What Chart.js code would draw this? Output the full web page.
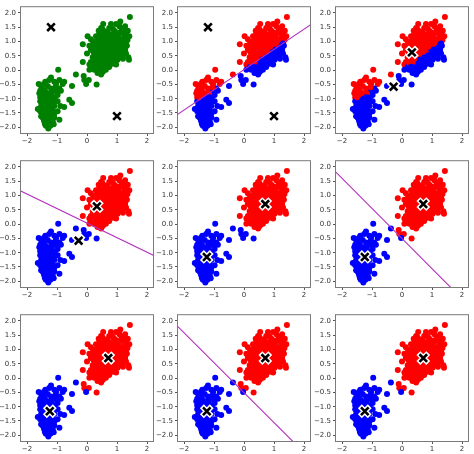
<!DOCTYPE html>
<html>
<head>
<meta charset="utf-8">
<script src="https://cdn.jsdelivr.net/npm/chart.js@4.4.1/dist/chart.umd.min.js"></script>
<style>
  body { margin: 0; background: #fff; }
  #wrap { position: relative; width: 474px; height: 454px; overflow: hidden; }
  #wrap canvas { position: absolute; }
</style>
</head>
<body>
<div id="wrap"></div>
<script>
// upper cluster (long eruptions), standardised units
const clusterTop = [
  [1.43,1.86],[1.11,1.70],[0.54,1.61],[0.80,1.61],[0.97,1.61],[1.08,1.53],[1.27,1.53],[0.47,1.47],[0.74,1.47],
  [0.39,1.38],[0.91,1.38],[1.22,1.38],[1.36,1.38],[0.58,1.30],[0.69,1.30],[1.04,1.30],[1.19,1.30],[0.41,1.25],
  [0.80,1.25],[1.30,1.25],[0.02,1.18],[0.30,1.18],[0.67,1.18],[0.97,1.18],[1.41,1.18],[0.13,1.08],[0.47,1.08],
  [0.86,1.08],[1.16,1.08],[0.38,1.00],[0.61,1.00],[0.91,1.00],[1.24,1.00],[-0.14,0.90],[0.19,0.90],[0.36,0.90],
  [0.47,0.90],[0.74,0.90],[0.97,0.90],[1.13,0.90],[0.08,0.85],[0.58,0.85],[0.80,0.85],[1.02,0.85],[1.19,0.85],
  [1.33,0.85],[0.24,0.79],[0.41,0.79],[0.69,0.79],[0.89,0.79],[1.08,0.79],[0.13,0.71],[0.30,0.71],[0.52,0.71],
  [0.74,0.71],[0.97,0.71],[1.13,0.71],[1.27,0.71],[0.36,0.65],[0.63,0.65],[0.86,0.65],[1.02,0.65],[0.00,0.58],
  [0.24,0.58],[0.47,0.58],[0.69,0.58],[0.89,0.58],[1.13,0.58],[1.30,0.58],[0.41,0.50],[0.58,0.50],[0.80,0.50],
  [0.97,0.50],[1.19,0.50],[0.19,0.45],[0.36,0.45],[0.63,0.45],[0.91,0.45],[1.08,0.45],[1.38,0.45],[0.47,0.36],
  [0.69,0.36],[0.86,0.36],[1.02,0.36],[1.40,0.36],[-0.14,0.28],[0.13,0.28],[0.58,0.28],[0.80,0.28],[0.08,0.20],
  [0.36,0.20],[0.52,0.20],[0.63,0.20],[0.97,0.20],[0.19,0.11],[0.47,0.11],[0.74,0.11],[0.08,0.01],[0.24,0.01],
  [0.47,0.01],[0.63,0.01],[0.41,-0.07],[0.52,-0.07],[0.47,-0.15],
  [0.52,1.42],[0.86,1.45],[1.15,1.45],[0.65,1.35],[0.95,1.33],[1.30,1.33],[0.50,1.20],[0.82,1.15],[1.05,1.22],
  [1.25,1.15],[0.35,1.05],[0.55,1.12],[0.72,1.05],[1.00,1.05],[1.35,1.05],[0.25,0.98],[0.50,0.95],[0.80,0.97],
  [1.08,0.95],[1.30,0.93],[0.65,0.92],[0.90,0.88],[0.30,0.82],[0.50,0.80],[0.75,0.82],[0.98,0.80],[1.20,0.78],
  [0.40,0.74],[0.62,0.75],[0.85,0.74],[1.05,0.72],[0.20,0.66],[0.50,0.66],[0.75,0.64],[0.95,0.62],[1.20,0.64],
  [0.33,0.60],[0.58,0.58],[0.80,0.60],[1.00,0.55],[0.28,0.52],[0.70,0.52],[0.88,0.52],[1.10,0.52],[0.50,0.43],
  [0.75,0.45],[1.00,0.42],[1.20,0.40],[0.30,0.38],[0.60,0.36],[0.93,0.33],[0.40,0.30],[0.70,0.28],[0.25,0.25],
  [0.55,0.24],[0.85,0.22],[0.30,0.12],[0.60,0.14],[0.38,0.04],[0.55,-0.02],[0.35,-0.10]
];

// points between the two clusters
const bridge = [
  [-0.37,-0.15],[-0.11,-0.21],[-0.09,-0.35],[0.06,-0.35],[-0.03,-0.49],[0.32,-0.50],
  [-0.50,-0.56],[-0.59,-1.04],[-0.50,-1.15],[-0.76,-1.29]
];

// lower cluster (short eruptions)
const clusterBottom = [
  [-0.96,0.01],[-1.20,-0.26],[-1.26,-0.35],[-0.92,-0.35],[-1.39,-0.41],[-1.09,-0.41],[-0.76,-0.41],
  [-1.61,-0.49],[-1.44,-0.49],[-1.03,-0.49],[-0.81,-0.49],[-1.53,-0.56],[-1.31,-0.56],[-1.48,-0.64],
  [-1.20,-0.64],[-0.92,-0.64],[-1.56,-0.72],[-1.40,-0.72],[-1.11,-0.72],[-1.03,-0.72],[-0.87,-0.72],
  [-1.59,-0.81],[-1.31,-0.81],[-1.18,-0.81],[-1.53,-0.87],[-1.42,-0.87],[-1.26,-0.87],[-0.98,-0.87],
  [-1.56,-0.95],[-1.37,-0.95],[-1.20,-0.95],[-1.07,-0.95],[-1.48,-1.04],[-1.31,-1.04],[-1.14,-1.04],
  [-1.56,-1.09],[-1.42,-1.09],[-1.22,-1.09],[-0.98,-1.09],[-1.48,-1.17],[-1.33,-1.17],[-1.14,-1.17],
  [-1.53,-1.26],[-1.42,-1.26],[-1.26,-1.26],[-1.09,-1.26],[-0.89,-1.26],[-1.64,-1.36],[-1.48,-1.36],
  [-1.33,-1.36],[-1.20,-1.36],[-1.56,-1.44],[-1.42,-1.44],[-1.26,-1.44],[-0.98,-1.44],[-1.48,-1.52],
  [-1.37,-1.52],[-1.20,-1.52],[-1.09,-1.52],[-1.53,-1.61],[-1.42,-1.61],[-1.31,-1.61],[-1.20,-1.61],
  [-1.48,-1.66],[-1.37,-1.66],[-1.26,-1.66],[-1.09,-1.66],[-1.44,-1.74],[-1.31,-1.74],[-1.20,-1.74],
  [-0.92,-1.74],[-1.42,-1.81],[-1.31,-1.81],[-1.14,-1.81],[-1.40,-1.89],[-1.26,-1.89],[-1.11,-1.89],
  [-1.37,-1.95],[-1.22,-1.95],[-1.29,-2.04],
  [-1.50,-0.95],[-1.35,-1.20],[-1.45,-1.30],[-1.30,-1.48],[-1.40,-1.70],[-1.50,-1.55],[-1.28,-1.00],
  [-1.15,-1.40],[-1.05,-0.60],[-1.45,-0.78],[-1.20,-1.20],[-1.35,-1.85]
];

// cluster centres [red, blue] at each step
const mu0 = [[-1.20, 1.50], [1.00, -1.61]];
const mu1 = [[0.33, 0.62], [-0.28, -0.58]];
const mu2 = [[0.71, 0.70], [-1.24, -1.15]];
const mu3 = [[0.71, 0.70], [-1.24, -1.16]];

const xTicks = [-2, -1, 0, 1, 2];
const yTicks = [-2, -1.5, -1, -0.5, 0, 0.5, 1, 1.5, 2];

// which centres colour the points, which centres get a cross, and whether to draw the boundary
const panels = [
  { assign: null, centers: mu0, line: false },
  { assign: mu0,  centers: mu0, line: true },
  { assign: mu0,  centers: mu1, line: false },
  { assign: mu1,  centers: mu1, line: true },
  { assign: mu1,  centers: mu2, line: false },
  { assign: mu2,  centers: mu2, line: true },
  { assign: mu2,  centers: mu3, line: false },
  { assign: mu3,  centers: mu3, line: true },
  { assign: mu3,  centers: mu3, line: false }
];

const colLeft = [21, 178, 336];
const rowTop = [5, 159, 313];
const areaW = 132, areaH = 128;
const yAxisW = 22, xAxisH = 16, padTop = 4, padRight = 4;

const allPts = clusterTop.concat(bridge, clusterBottom);

function minus(s) { return s.replace('-', '\u2212'); }

function pointColors(mu) {
  return allPts.map(([x, y]) => {
    if (!mu) return '#008000';
    const d0 = (x - mu[0][0]) ** 2 + (y - mu[0][1]) ** 2;
    const d1 = (x - mu[1][0]) ** 2 + (y - mu[1][1]) ** 2;
    return d0 < d1 ? '#ff0000' : '#0000ff';
  });
}

// perpendicular bisector of the two centres
function boundary(mu) {
  const mx = (mu[0][0] + mu[1][0]) / 2, my = (mu[0][1] + mu[1][1]) / 2;
  const dx = mu[1][0] - mu[0][0], dy = mu[1][1] - mu[0][1];
  const f = x => my - (dx / dy) * (x - mx);
  return [{ x: -4, y: f(-4) }, { x: 4, y: f(4) }];
}

const frame = {
  id: 'frame',
  afterDatasetsDraw(chart) {
    const { ctx, chartArea: a } = chart;
    ctx.save();
    ctx.strokeStyle = '#7a7a7a';
    ctx.lineWidth = 1;
    ctx.strokeRect(a.left - 0.5, a.top - 0.5, a.right - a.left + 1, a.bottom - a.top + 1);
    ctx.restore();
  }
};

const wrap = document.getElementById('wrap');

panels.forEach((p, i) => {
  const col = i % 3, row = Math.floor(i / 3);
  const cv = document.createElement('canvas');
  cv.width = yAxisW + areaW + padRight;
  cv.height = padTop + areaH + xAxisH;
  cv.style.left = (colLeft[col] - yAxisW) + 'px';
  cv.style.top = (rowTop[row] - padTop) + 'px';
  wrap.appendChild(cv);

  const datasets = [{
    data: allPts.map(([x, y]) => ({ x, y })),
    pointRadius: 3,
    pointBorderWidth: 0,
    pointBackgroundColor: pointColors(p.assign),
    order: 3
  }];
  if (p.line) {
    datasets.push({
      type: 'line',
      data: boundary(p.centers),
      borderColor: '#b52fc0',
      borderWidth: 1.1,
      pointRadius: 0,
      fill: false,
      order: 2
    });
  }
  const cross = p.centers.map(([x, y]) => ({ x, y }));
  datasets.push({
    data: cross, pointStyle: 'crossRot', pointRadius: 7, pointBorderWidth: 5.5,
    pointBorderColor: '#ffffff', order: 1
  });
  datasets.push({
    data: cross, pointStyle: 'crossRot', pointRadius: 5.4, pointBorderWidth: 2.6,
    pointBorderColor: '#000000', order: 0
  });

  const tickFont = { family: 'DejaVu Sans', size: 7 };
  new Chart(cv, {
    type: 'scatter',
    data: { datasets },
    plugins: [frame],
    options: {
      responsive: false,
      animation: false,
      devicePixelRatio: 1,
      layout: { autoPadding: false, padding: { top: padTop, right: padRight, left: 0, bottom: 0 } },
      plugins: { legend: { display: false }, tooltip: { enabled: false } },
      scales: {
        x: {
          type: 'linear', min: -2.2, max: 2.2,
          afterBuildTicks: s => { s.ticks = xTicks.map(v => ({ value: v })); },
          afterFit: s => { s.height = xAxisH; },
          ticks: { font: tickFont, color: '#333', padding: 1, maxRotation: 0, autoSkip: false,
                   callback: v => minus(String(v)) },
          grid: { drawOnChartArea: false, tickLength: 3, color: '#555' },
          border: { display: false }
        },
        y: {
          type: 'linear', min: -2.2, max: 2.2,
          afterBuildTicks: s => { s.ticks = yTicks.map(v => ({ value: v })); },
          afterFit: s => { s.width = yAxisW; },
          ticks: { font: tickFont, color: '#333', padding: 2, autoSkip: false,
                   callback: v => minus(v.toFixed(1)) },
          grid: { drawOnChartArea: false, tickLength: 3, color: '#555' },
          border: { display: false }
        }
      }
    }
  });
});
</script>
</body>
</html>
